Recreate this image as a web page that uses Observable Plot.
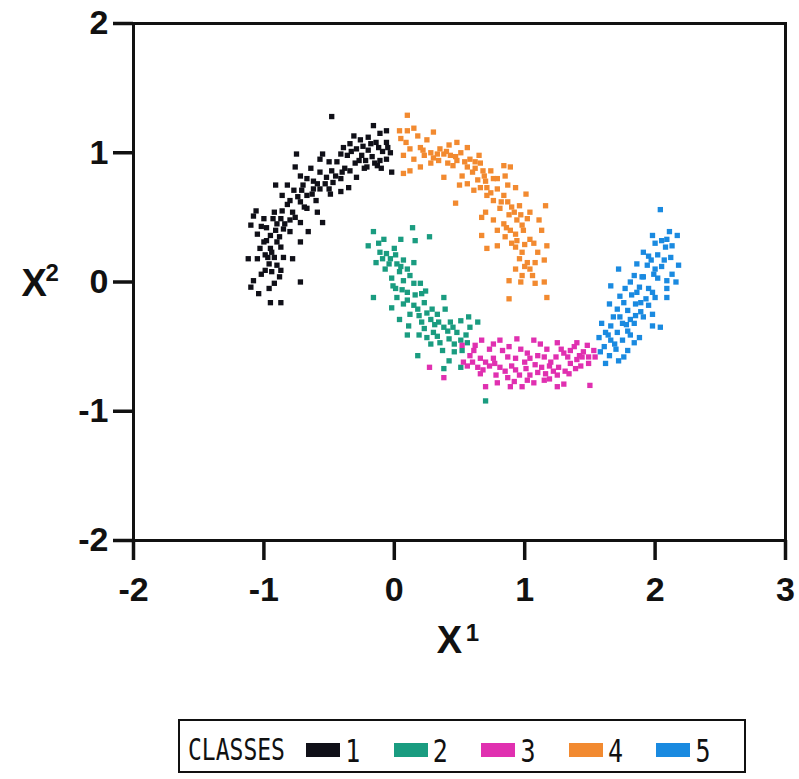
<!DOCTYPE html>
<html>
<head>
<meta charset="utf-8">
<script src="https://cdn.jsdelivr.net/npm/d3@7"></script>
<script src="https://cdn.jsdelivr.net/npm/@observablehq/plot@0.6"></script>
<style>
  body { margin: 0; background: #fff; width: 799px; height: 779px; position: relative; overflow: hidden; }
  #chart { position: absolute; left: 0; top: 0; }
  #legend { position: absolute; left: 178px; top: 719px; width: 568px; height: 54px; border: 2px solid #111;
            box-sizing: border-box; display: flex; align-items: center; padding-top: 8px;
            font-family: "DejaVu Sans Mono", "Liberation Mono", monospace; font-size: 23px; color: #111; }
  #legend .title { display: inline-block; width: 131px; padding-left: 8px; box-sizing: border-box; transform: scaleY(1.3); }
  #legend .item { display: flex; align-items: center; width: 91px; }
  #legend .sw { display: inline-block; width: 34px; height: 14px; margin-right: 5px; }
  #legend .lab { display: inline-block; font-size: 25px; transform: scaleY(1.3); }
</style>
</head>
<body>
<div id="chart"></div>
<div id="legend"></div>
<script>
// ---- data ----
const classes = ["1", "2", "3", "4", "5"];
const classColors = ["#101018", "#1a9c80", "#e030b0", "#f28a30", "#1a8ae0"];
const xTicks = [-2, -1, 0, 1, 2, 3];
const yTicks = [-2, -1, 0, 1, 2];

const class1 = [[-0.48,1.28],[-0.16,1.21],[-0.06,1.17],[-0.11,1.15],[-0.20,1.12],[-0.14,1.08],[-0.06,1.08],[-0.31,1.13],[-0.34,1.07],[-0.39,1.04],[-0.29,1.03],[-0.41,0.99],[-0.36,0.98],[-0.25,0.98],[-0.17,0.97],[-0.11,0.94],[-0.06,0.95],[-0.13,0.90],[-0.02,0.85],[-0.21,0.89],[-0.30,0.92],[-0.34,0.86],[-0.29,0.81],[-0.55,0.99],[-0.57,0.95],[-0.50,0.93],[-0.75,0.99],[-0.48,0.86],[-0.45,0.82],[-0.52,0.81],[-0.41,0.80],[-0.57,0.85],[-0.64,0.88],[-0.76,0.89],[-0.72,0.82],[-0.67,0.80],[-0.59,0.76],[-0.57,0.72],[-0.50,0.72],[-0.35,0.73],[-0.41,0.70],[-0.49,0.68],[-0.91,0.75],[-0.82,0.75],[-0.77,0.71],[-0.71,0.71],[-0.67,0.67],[-0.63,0.68],[-0.86,0.67],[-0.80,0.63],[-0.72,0.62],[-0.60,0.63],[-0.59,0.54],[-0.67,0.57],[-0.78,0.54],[-0.86,0.55],[-0.92,0.54],[-1.06,0.55],[-1.08,0.51],[-1.00,0.49],[-0.87,0.49],[-0.80,0.48],[-0.72,0.46],[-0.55,0.46],[-1.10,0.44],[-0.98,0.42],[-0.85,0.41],[-0.80,0.39],[-1.05,0.37],[-0.95,0.36],[-0.66,0.39],[-0.98,0.32],[-0.90,0.31],[-0.72,0.31],[-1.03,0.26],[-0.95,0.26],[-0.99,0.21],[-0.92,0.19],[-0.85,0.19],[-1.12,0.18],[-1.05,0.18],[-0.78,0.18],[-0.96,0.14],[-0.90,0.13],[-0.99,0.09],[-0.94,0.08],[-0.87,0.09],[-0.72,0.00],[-1.08,0.01],[-0.92,-0.01],[-1.10,-0.04],[-0.96,-0.05],[-1.04,-0.09],[-0.95,-0.16],[-0.87,-0.16],[-0.24,1.05],[-0.20,1.02],[-0.09,1.01],[-0.03,1.00],[-0.27,0.94],[-0.23,0.88],[-0.10,0.88],[-0.44,0.93],[-0.38,0.88],[-0.62,0.78],[-0.70,0.75],[-0.82,0.60],[-0.90,0.45],[-0.94,0.23],[-0.88,0.35],[-0.26,1.10],[-0.18,1.07],[-0.12,1.04],[-0.05,1.04],[-0.33,1.01],[-0.22,0.94],[-0.15,0.92],[-0.40,0.85],[-0.47,0.77],[-0.53,0.76],[-0.62,0.72],[-0.74,0.66],[-0.69,0.58],[-0.76,0.50],[-0.84,0.45],[-0.93,0.49],[-1.02,0.43],[-0.91,0.40],[-0.87,0.27],[-1.00,0.31],[-0.97,0.19],[-0.88,0.04],[-1.02,0.06]];

const class2 = [[-0.16,0.39],[0.14,0.42],[-0.08,0.33],[-0.20,0.28],[0.05,0.33],[0.16,0.32],[0.27,0.35],[0.00,0.26],[-0.11,0.23],[-0.14,0.15],[-0.03,0.18],[0.07,0.17],[0.15,0.15],[-0.07,0.10],[0.04,0.08],[-0.02,0.03],[0.07,0.01],[0.15,-0.01],[0.20,-0.01],[-0.16,-0.12],[0.01,-0.05],[0.10,-0.08],[0.21,-0.09],[0.38,-0.12],[0.02,-0.12],[-0.02,-0.20],[0.07,-0.17],[0.15,-0.18],[0.23,-0.16],[0.39,-0.21],[0.12,-0.25],[0.19,-0.26],[0.04,-0.29],[0.28,-0.29],[0.34,-0.31],[0.43,-0.31],[0.51,-0.30],[0.57,-0.27],[0.64,-0.31],[0.11,-0.34],[0.23,-0.36],[0.30,-0.39],[0.41,-0.38],[0.48,-0.39],[0.58,-0.35],[0.10,-0.41],[0.19,-0.41],[0.28,-0.48],[0.35,-0.47],[0.42,-0.44],[0.51,-0.45],[0.56,-0.47],[0.37,-0.53],[0.46,-0.54],[0.52,-0.53],[0.18,-0.57],[0.42,-0.61],[0.51,-0.66],[0.38,-0.67],[0.70,-0.92],[-0.04,0.14],[0.05,0.12],[0.12,0.05],[0.24,-0.07],[0.29,-0.21],[0.33,-0.25],[-0.12,0.30],[-0.06,0.22],[0.01,0.21],[-0.09,0.18],[0.02,0.14],[0.10,0.10],[-0.01,-0.03],[0.06,-0.06],[0.16,-0.10],[0.10,-0.14],[0.18,-0.21],[0.25,-0.24],[0.21,-0.31],[0.31,-0.33],[0.38,-0.35],[0.45,-0.35],[0.25,-0.43],[0.33,-0.42],[0.46,-0.48],[0.55,-0.41]];

const class3 = [[0.27,-0.66],[0.38,-0.74],[0.70,-0.81],[0.67,-0.45],[0.81,-0.45],[0.94,-0.44],[1.07,-0.45],[1.25,-0.47],[1.40,-0.47],[0.61,-0.53],[0.73,-0.52],[0.83,-0.53],[0.97,-0.52],[1.17,-0.52],[1.35,-0.53],[1.48,-0.49],[0.66,-0.59],[0.76,-0.59],[0.87,-0.58],[0.93,-0.59],[1.04,-0.59],[1.15,-0.58],[1.24,-0.58],[1.33,-0.58],[1.42,-0.57],[1.49,-0.58],[0.56,-0.65],[0.64,-0.66],[0.73,-0.65],[0.81,-0.66],[0.90,-0.65],[1.01,-0.67],[1.10,-0.70],[1.19,-0.65],[1.26,-0.66],[1.35,-0.63],[1.43,-0.65],[1.49,-0.63],[0.66,-0.71],[0.78,-0.72],[0.87,-0.74],[0.96,-0.72],[1.04,-0.72],[1.16,-0.71],[1.25,-0.72],[1.34,-0.71],[0.79,-0.78],[0.89,-0.81],[0.98,-0.81],[1.07,-0.78],[1.15,-0.76],[1.25,-0.81],[1.30,-0.79],[1.50,-0.80],[0.58,-0.57],[0.53,-0.62],[0.52,-0.49],[1.12,-0.48],[1.45,-0.54],[1.53,-0.53],[1.54,-0.58],[0.70,-0.62],[1.00,-0.62],[1.20,-0.62],[1.30,-0.55],[1.40,-0.60],[0.85,-0.69],[1.08,-0.64],[0.62,-0.49],[0.76,-0.48],[0.88,-0.50],[1.02,-0.55],[1.10,-0.57],[1.28,-0.52],[1.38,-0.50],[1.44,-0.58],[0.60,-0.62],[0.68,-0.68],[0.77,-0.63],[0.93,-0.68],[1.13,-0.66],[1.22,-0.69],[1.39,-0.67],[1.31,-0.69],[0.92,-0.77],[1.02,-0.76],[1.19,-0.75]];

const class4 = [[0.10,1.29],[0.04,1.17],[0.10,1.17],[0.15,1.19],[0.05,1.11],[0.30,1.16],[0.25,1.10],[0.20,1.04],[0.12,1.03],[0.07,0.98],[0.15,0.95],[0.23,0.98],[0.28,1.00],[0.35,1.03],[0.42,1.06],[0.48,1.08],[0.56,1.04],[0.51,1.00],[0.43,0.98],[0.34,0.94],[0.28,0.92],[0.20,0.89],[0.12,0.86],[0.07,0.84],[0.41,0.92],[0.48,0.94],[0.58,0.95],[0.65,0.98],[0.66,0.92],[0.56,0.89],[0.60,0.85],[0.52,0.82],[0.38,0.81],[0.69,0.82],[0.74,0.86],[0.84,0.90],[0.89,0.89],[0.85,0.82],[0.79,0.80],[0.64,0.79],[0.56,0.76],[0.50,0.75],[0.61,0.71],[0.71,0.73],[0.79,0.72],[0.87,0.75],[0.93,0.73],[0.71,0.67],[0.76,0.63],[0.84,0.67],[0.87,0.62],[1.01,0.68],[0.96,0.59],[0.81,0.57],[0.70,0.54],[0.47,0.61],[0.92,0.54],[1.04,0.54],[1.16,0.59],[0.76,0.48],[0.84,0.45],[0.94,0.48],[1.02,0.49],[1.11,0.48],[0.79,0.40],[0.89,0.40],[0.99,0.40],[1.13,0.40],[0.67,0.36],[0.85,0.35],[0.94,0.32],[1.04,0.33],[0.79,0.28],[0.71,0.26],[0.93,0.27],[0.98,0.23],[1.10,0.23],[1.17,0.28],[0.96,0.18],[1.02,0.15],[1.15,0.17],[0.93,0.10],[1.04,0.10],[0.98,0.05],[1.06,0.05],[0.88,0.01],[1.08,-0.01],[1.15,0.00],[0.88,-0.13],[1.17,-0.12],[0.67,0.50],[0.30,0.96],[0.38,0.99],[0.45,0.90],[0.62,0.88],[0.70,0.78],[0.90,0.58],[0.98,0.44],[0.90,0.30],[0.09,1.08],[0.18,1.13],[0.22,1.02],[0.33,0.99],[0.40,1.01],[0.47,0.97],[0.54,0.93],[0.62,0.93],[0.68,0.86],[0.76,0.80],[0.66,0.73],[0.74,0.69],[0.82,0.62],[0.88,0.52],[0.97,0.52],[0.86,0.42],[0.93,0.37],[1.00,0.29],[1.07,0.30],[1.00,0.12],[1.08,0.15],[0.97,0.00]];

const class5 = [[2.04,0.56],[1.98,0.36],[2.11,0.39],[2.17,0.36],[2.08,0.27],[2.13,0.28],[1.91,0.23],[2.02,0.21],[2.12,0.19],[2.18,0.13],[1.86,0.14],[1.94,0.13],[2.00,0.10],[2.05,0.12],[1.72,0.10],[1.84,0.05],[1.91,0.04],[2.02,0.03],[2.09,0.01],[2.16,0.00],[1.66,-0.03],[1.77,-0.05],[1.88,-0.04],[1.95,-0.05],[2.09,-0.05],[1.82,-0.10],[1.93,-0.13],[2.00,-0.12],[2.09,-0.12],[1.76,-0.16],[1.85,-0.17],[1.95,-0.18],[1.65,-0.17],[1.71,-0.21],[1.79,-0.22],[1.89,-0.23],[1.98,-0.25],[1.68,-0.27],[1.81,-0.29],[1.91,-0.27],[1.59,-0.32],[1.66,-0.34],[1.75,-0.32],[1.84,-0.32],[1.98,-0.34],[2.04,-0.35],[1.62,-0.39],[1.71,-0.39],[1.79,-0.38],[1.88,-0.43],[1.57,-0.43],[1.66,-0.45],[1.75,-0.45],[1.84,-0.47],[1.61,-0.50],[1.70,-0.52],[1.79,-0.53],[1.65,-0.57],[1.72,-0.61],[1.62,-0.63],[1.90,0.04],[1.97,0.17],[2.05,0.32],[2.00,0.30],[2.09,0.33],[1.95,0.20],[2.07,0.17],[1.99,0.06],[2.13,0.06],[1.81,0.00],[1.86,-0.08],[1.98,-0.08],[1.73,-0.11],[1.89,-0.16],[1.73,-0.27],[1.85,-0.26],[1.78,-0.33],[1.64,-0.41],[1.81,-0.41],[1.69,-0.48],[1.76,-0.58],[1.58,-0.54]];

const classSeries = [class1, class2, class3, class4, class5];

// ---- build ----
const points = [];
classSeries.forEach((s, i) => s.forEach(([x, y]) => points.push({x, y, cls: classes[i]})));

const fmt = d => (d < 0 ? "-" + (-d) : String(d));
const txt = {text: d => d, fontWeight: "bold", fill: "#111"};

const plot = Plot.plot({
  width: 799,
  height: 700,
  marginLeft: 133,
  marginRight: 14,
  marginTop: 23,
  marginBottom: 160,
  x: {domain: [-2, 3]},
  y: {domain: [-2, 2]},
  color: {domain: classes, range: classColors},
  style: {fontFamily: "'Liberation Sans', Arial, Helvetica, sans-serif", background: "#fff", overflow: "visible", color: "#111"},
  marks: [
    Plot.dot(points, {x: "x", y: "y", fill: "cls", symbol: "square", r: 3}),
    Plot.frame({stroke: "#111", strokeWidth: 3}),
    Plot.axisX({ticks: xTicks, tickSize: 20, tickPadding: 16, strokeWidth: 3.5, stroke: "#111", fontSize: 34, fontWeight: "bold", tickFormat: fmt, label: null}),
    Plot.axisY({ticks: yTicks, tickSize: 20, tickPadding: 5, strokeWidth: 3.5, stroke: "#111", fontSize: 34, fontWeight: "bold", tickFormat: fmt, label: null}),
    Plot.text(["X"], {...txt, frameAnchor: "left", dx: -112, dy: 2, fontSize: 38}),
    Plot.text(["2"], {...txt, frameAnchor: "left", dx: -88, dy: -9, fontSize: 24}),
    Plot.text(["X"], {...txt, frameAnchor: "bottom", dx: -10, dy: 112, fontSize: 38}),
    Plot.text(["1"], {...txt, frameAnchor: "bottom", dx: 13, dy: 100, fontSize: 24})
  ]
});
document.getElementById("chart").appendChild(plot);

const legend = document.getElementById("legend");
legend.innerHTML = `<span class="title">CLASSES</span>` +
  classes.map((c, i) => `<span class="item"><span class="sw" style="background:${classColors[i]}"></span><span class="lab">${c}</span></span>`).join("");
</script>
</body>
</html>
